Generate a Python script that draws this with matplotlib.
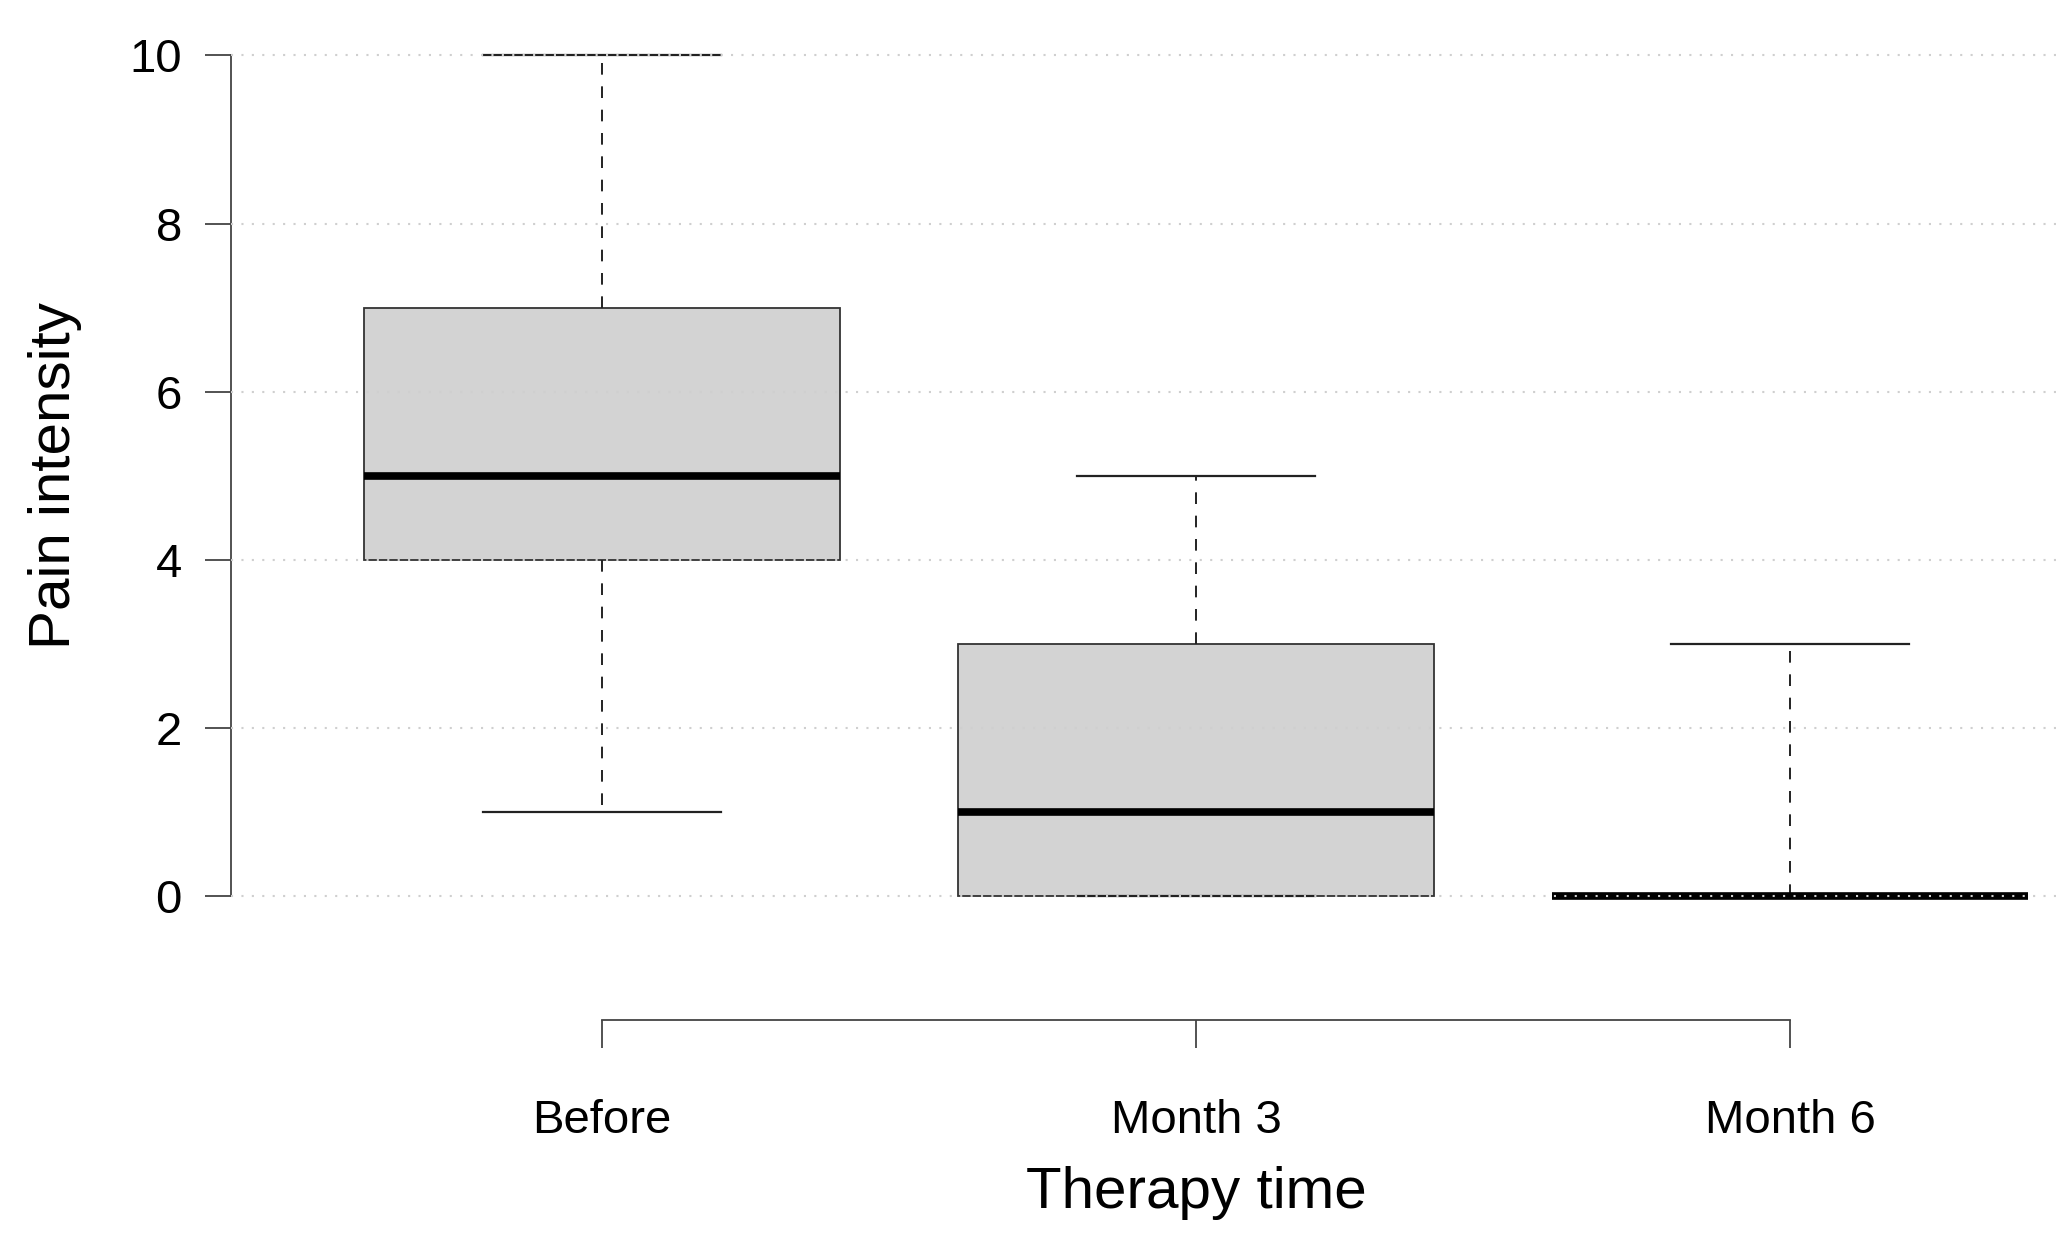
import matplotlib
matplotlib.use("Agg")
import matplotlib.pyplot as plt
import matplotlib.transforms as mtransforms

plt.rcParams['font.family'] = ['Liberation Sans', 'DejaVu Sans']

# five-number summaries
groups = ['Before', 'Month 3', 'Month 6']
whislo = [1, 0, 0]
q1 = [4, 0, 0]
med = [5, 1, 0]
q3 = [7, 3, 0]
whishi = [10, 5, 3]
yticks = [0, 2, 4, 6, 8, 10]

stats = []
for i in range(len(groups)):
    stats.append({'label': groups[i], 'whislo': whislo[i], 'q1': q1[i],
                  'med': med[i], 'q3': q3[i], 'whishi': whishi[i], 'fliers': []})

fig = plt.figure(figsize=(20.64, 12.56), dpi=100)
ax = fig.add_axes([0.1117, 0.1879, 0.8883, 0.8121])

ax.bxp(stats, positions=[1, 2, 3], widths=0.8, capwidths=0.4, patch_artist=True,
       showfliers=False,
       boxprops=dict(facecolor='#d3d3d3', edgecolor='#333333', linewidth=1.3),
       medianprops=dict(color='black', linewidth=5.5, solid_capstyle='butt'),
       whiskerprops=dict(color='#222222', linewidth=1.4, linestyle=(0, (6, 6))),
       capprops=dict(color='#222222', linewidth=1.6))

ax.set_xlim(0.375, 3.461)
ax.set_ylim(-1.47, 10.66)

# dotted grid over the boxes
ax.set_axisbelow(False)
ax.yaxis.grid(True, color='#cfcfcf', linestyle=(0, (1, 4)), linewidth=1.5)
ax.xaxis.grid(False)

for s in ['top', 'right']:
    ax.spines[s].set_visible(False)
ax.spines['left'].set_bounds(0, 10)
ax.spines['bottom'].set_bounds(1, 3)
for s in ['left', 'bottom']:
    ax.spines[s].set_color('#444444')
    ax.spines[s].set_linewidth(1.3)

ax.set_yticks(yticks)
ax.set_yticklabels([str(v) for v in yticks])
ax.set_xticks([1, 2, 3])
ax.set_xticklabels(groups)
ax.tick_params(axis='y', direction='out', length=19, width=1.3, color='#444444',
               pad=16, labelsize=34)
ax.tick_params(axis='x', direction='out', length=20, width=1.3, color='#444444',
               pad=37, labelsize=34)

# axis titles centred on the spans of the spines
tr_y = mtransforms.blended_transform_factory(fig.transFigure, ax.transData)
ax.text(55 / 2064, 5, 'Pain intensity', transform=tr_y, rotation=90,
        ha='center', va='center', fontsize=42)
tr_x = mtransforms.blended_transform_factory(ax.transData, fig.transFigure)
ax.text(2, 48 / 1256, 'Therapy time', transform=tr_x, ha='center', va='baseline',
        fontsize=42)

fig.savefig('out.png', dpi=100)
